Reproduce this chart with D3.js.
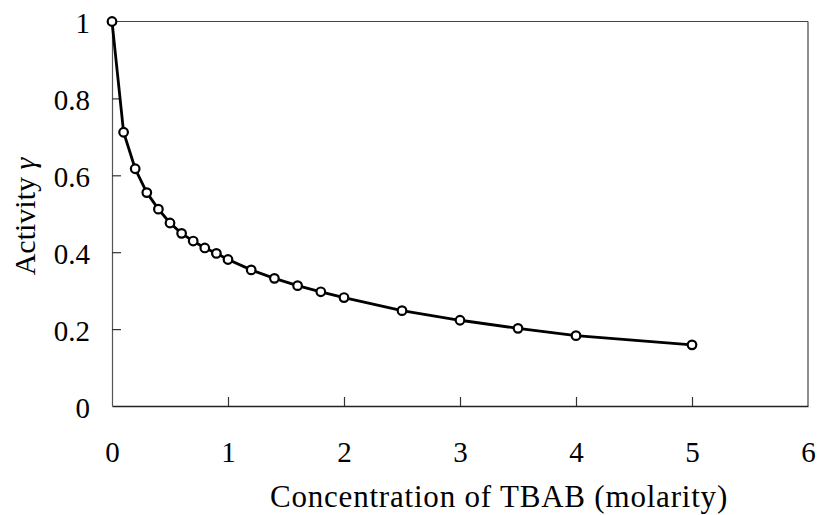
<!DOCTYPE html>
<html>
<head>
<meta charset="utf-8">
<script src="https://cdn.jsdelivr.net/npm/d3@7"></script>
<style>
  html, body { margin: 0; padding: 0; background: #fff; }
  svg { display: block; }
</style>
</head>
<body>
<div id="chart"></div>
<script>
// ---- data ----
const concentration = [0, 0.1, 0.2, 0.3, 0.4, 0.5, 0.6, 0.7, 0.8, 0.9, 1.0, 1.2, 1.4, 1.6, 1.8, 2.0, 2.5, 3.0, 3.5, 4.0, 5.0];
const activity = [1.0, 0.712, 0.617, 0.555, 0.512, 0.476, 0.449, 0.429, 0.411, 0.397, 0.381, 0.354, 0.332, 0.313, 0.297, 0.282, 0.248, 0.223, 0.202, 0.183, 0.159];
const xTicks = [0, 1, 2, 3, 4, 5, 6];
const yTicks = [0, 0.2, 0.4, 0.6, 0.8, 1];
const yTickLabels = ["0", "0.2", "0.4", "0.6", "0.8", "1"];
const xTitle = "Concentration of TBAB (molarity)";
const yTitle = "Activity ";
const yTitleSymbol = "γ";

const W = 817, H = 515;
const pLeft = 112, pRight = 808, pTop = 21.5, pBottom = 406;
const FONT = "'Liberation Serif', 'Times New Roman', serif";

const svg = d3.select("#chart").append("svg").attr("width", W).attr("height", H);

const x = d3.scaleLinear().domain([0, 6]).range([pLeft, pRight]);
const y = d3.scaleLinear().domain([0, 1]).range([pBottom, pTop]);

// frame (top and right)
svg.append("line").attr("x1", pLeft).attr("x2", pRight).attr("y1", pTop).attr("y2", pTop)
  .attr("stroke", "#444").attr("stroke-width", 1.2);
svg.append("line").attr("x1", pRight).attr("x2", pRight).attr("y1", pTop).attr("y2", pBottom)
  .attr("stroke", "#444").attr("stroke-width", 1.2);

// x axis
const gx = svg.append("g").attr("transform", `translate(0,${pBottom})`)
  .call(d3.axisBottom(x).tickValues(xTicks).tickFormat(d3.format("d"))
    .tickSize(-9).tickSizeOuter(0).tickPadding(35));
gx.select(".domain").attr("stroke", "#222").attr("stroke-width", 1.6);
gx.selectAll(".tick line").attr("stroke", "#333").attr("stroke-width", 1.2)
  .filter(d => d === 0 || d === 6).remove();
gx.selectAll(".tick text").attr("font-family", FONT).attr("font-size", 29).attr("fill", "#000");

// y axis
const gy = svg.append("g").attr("transform", `translate(${pLeft},0)`)
  .call(d3.axisLeft(y).tickValues(yTicks).tickFormat((d, i) => yTickLabels[i])
    .tickSize(-9).tickSizeOuter(0).tickPadding(22));
gy.select(".domain").attr("stroke", "#555").attr("stroke-width", 1.2);
gy.selectAll(".tick line").attr("stroke", "#333").attr("stroke-width", 1.2)
  .filter(d => d === 0 || d === 1).remove();
gy.selectAll(".tick text").attr("font-family", FONT).attr("font-size", 29).attr("fill", "#000")
  .attr("dy", "0.39em");

// line
const pts = concentration.map((c, i) => [c, activity[i]]);
const line = d3.line().x(d => x(d[0])).y(d => y(d[1])).curve(d3.curveLinear);
svg.append("path").datum(pts).attr("d", line)
  .attr("fill", "none").attr("stroke", "#000").attr("stroke-width", 2.8)
  .attr("stroke-linejoin", "round");

// markers
svg.selectAll("circle.pt").data(pts).join("circle").attr("class", "pt")
  .attr("cx", d => x(d[0])).attr("cy", d => y(d[1])).attr("r", 4.3)
  .attr("fill", "#fff").attr("stroke", "#000").attr("stroke-width", 2.2);

// titles
svg.append("text").attr("x", 499).attr("y", 507)
  .attr("text-anchor", "middle").attr("font-family", FONT).attr("font-size", 31)
  .attr("letter-spacing", "0.8px")
  .attr("fill", "#000").text(xTitle);

const yt = svg.append("text").attr("transform", "translate(35,216.5) rotate(-90)")
  .attr("text-anchor", "middle").attr("font-family", FONT).attr("font-size", 30).attr("fill", "#000");
yt.append("tspan").text(yTitle);
yt.append("tspan").attr("font-style", "italic").text(yTitleSymbol);
</script>
</body>
</html>
